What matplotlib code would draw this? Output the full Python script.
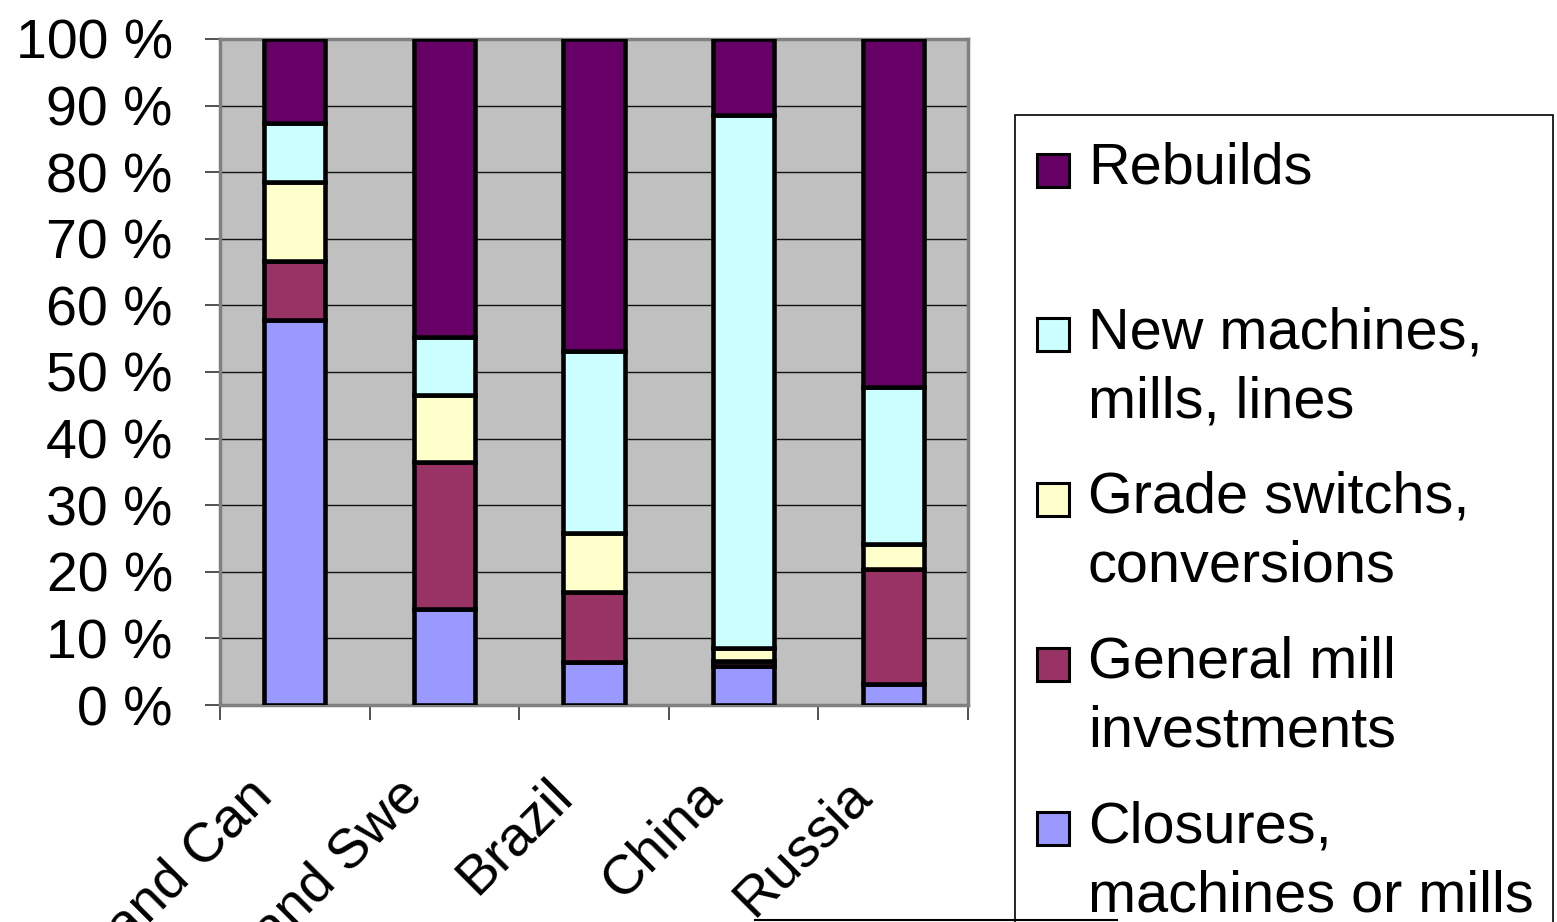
import matplotlib
matplotlib.use("Agg")
import matplotlib.pyplot as plt
import numpy as np
from matplotlib.patches import Rectangle
from matplotlib.lines import Line2D
from matplotlib.transforms import ScaledTranslation

plt.rcParams['font.family'] = ['Liberation Sans', 'DejaVu Sans']

# Regions and investment-type shares (percent of total), bottom to top
regions = ["USA and Can", "Fin and Swe", "Brazil", "China", "Russia"]
closures = [57.8, 14.4, 6.4, 5.9, 3.2]
general_mill = [8.9, 22.1, 10.6, 0.7, 17.2]
grade_switches = [11.8, 10.1, 8.9, 1.9, 3.7]
new_machines = [8.9, 8.6, 27.2, 80.1, 23.6]
rebuilds = [12.6, 44.8, 46.9, 11.4, 52.3]

series_labels = ["Closures,\nmachines or mills", "General mill\ninvestments",
                 "Grade switchs,\nconversions", "New machines,\nmills, lines",
                 "Rebuilds"]
series_colors = ["#9999FF", "#993366", "#FFFFCC", "#CCFFFF", "#660066"]
y_ticks = [0, 10, 20, 30, 40, 50, 60, 70, 80, 90, 100]
y_tick_labels = [f"{v} %" for v in y_ticks]

W, H, DPI = 1557, 922, 100
fig = plt.figure(figsize=(W / DPI, H / DPI), dpi=DPI)
fig.patch.set_facecolor("white")

ax_l, ax_r, ax_t, ax_b = 220, 968, 39, 705
ax = fig.add_axes([ax_l / W, (H - ax_b) / H, (ax_r - ax_l) / W, (ax_b - ax_t) / H])
ax.set_facecolor("#C0C0C0")

x = np.arange(len(regions))
series = [closures, general_mill, grade_switches, new_machines, rebuilds]
bottom = np.zeros(len(regions))
for vals, col, lab in zip(series, series_colors, series_labels):
    vals = np.array(vals, dtype=float)
    ax.bar(x, vals, width=0.41, bottom=bottom, color=col, edgecolor="black",
           linewidth=3.3, label=lab, zorder=3)
    bottom += vals

ax.set_xlim(-0.5, len(regions) - 0.5)
ax.set_ylim(0, 100)
ax.set_yticks(y_ticks)
ax.set_yticklabels(y_tick_labels, fontsize=40)
ax.tick_params(axis="y", direction="out", length=11, width=1.2, color="#333333", pad=23)
ax.yaxis.grid(True, color="#111111", linewidth=1.0, zorder=0)
ax.set_axisbelow(True)

# category boundary tick marks, labels drawn separately
ax.set_xticks(np.arange(-0.5, len(regions)), minor=True)
ax.set_xticks([])
ax.tick_params(axis="x", which="minor", direction="out", length=11, width=1.2, color="#333333")

for s in ax.spines.values():
    s.set_color("#808080")
    s.set_linewidth(2.5)

offset = ScaledTranslation(-30 / DPI, -83 / DPI, fig.dpi_scale_trans)
for xi, name in zip(x, regions):
    ax.text(xi, 0, name, transform=ax.get_xaxis_transform() + offset,
            rotation=45, rotation_mode="anchor", ha="right", va="center",
            fontsize=40, clip_on=False)

# Legend box, drawn in pixel coordinates of the figure
def fx(px):
    return px / W

def fy(py):
    return (H - py) / H

frame = Rectangle((fx(1015), fy(940)), fx(1553) - fx(1015), fy(115) - fy(940),
                  transform=fig.transFigure, facecolor="white", edgecolor="black",
                  linewidth=1.2, zorder=5)
fig.add_artist(frame)

legend_order = [4, 3, 2, 1, 0]
base0, step, line_gap = 184, 164.5, 69
for k, idx in enumerate(legend_order):
    base = base0 + k * step
    sq = Rectangle((fx(1037), fy(base + 3)), fx(1069) - fx(1037), fy(base - 30) - fy(base + 3),
                   transform=fig.transFigure, facecolor=series_colors[idx],
                   edgecolor="black", linewidth=2.2, zorder=6)
    fig.add_artist(sq)
    for j, line in enumerate(series_labels[idx].split("\n")):
        fig.text(fx(1088), fy(base + j * line_gap), line, fontsize=41.5,
                 ha="left", va="baseline", zorder=7)

fig.add_artist(Line2D([fx(755), fx(1117)], [fy(920), fy(920)], color="black",
                      linewidth=1.5, transform=fig.transFigure, zorder=6))

fig.savefig("out.png", dpi=DPI)
